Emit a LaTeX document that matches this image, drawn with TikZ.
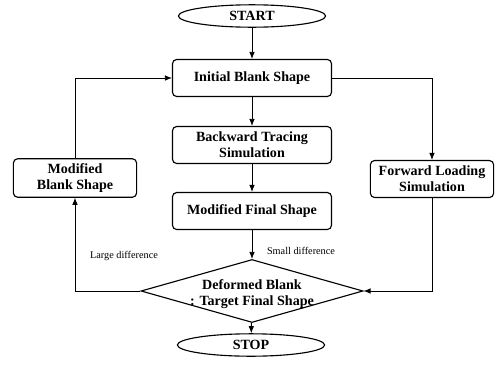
\documentclass[tikz,border=0pt]{standalone}
\usepackage{fontspec}
\setmainfont{Liberation Serif}
\usetikzlibrary{shapes.geometric,arrows.meta}
\begin{document}
\begin{tikzpicture}[
        x=0.025cm, y=-0.025cm,
        every node/.style={font=\fontsize{10}{11.5}\selectfont\bfseries},
        stepbox/.style={
            draw,
            rectangle,
            rounded corners=3pt,
            line width=0.8pt,
            minimum width=3.975cm,
            minimum height=0.925cm,
            align=center
        },
        sidebox/.style={
            stepbox,
            minimum width=3.08cm
        },
        terminal/.style={
            draw,
            ellipse,
            line width=0.8pt,
            inner sep=0pt,
            minimum width=3.68cm,
            minimum height=0.56cm
        },
        decision/.style={
            draw,
            diamond,
            line width=0.8pt,
            aspect=3.52,
            inner sep=0pt,
            minimum width=5.55cm,
            minimum height=1.575cm
        },
        remark/.style={
            font=\fontsize{7.3}{9}\selectfont
        },
        flow/.style={
            -{Latex[length=5pt,width=4pt]},
            line width=0.6pt
        }
    ]
        \useasboundingbox (0,0) rectangle (500,376);

        % Main column
        \node[terminal] (start) at (252,16) {START};
        \node[stepbox] (init) at (252,78) {Initial Blank Shape};
        \node[stepbox] (backward) at (252,145) {Backward Tracing\\Simulation};
        \node[stepbox] (modfinal) at (252,211) {Modified Final Shape};
        \node[decision, label={[align=center, yshift=-2pt]center:Deformed Blank\\: Target Final Shape}]
            (compare) at (252,291) {};
        \node[terminal] (stop) at (251,345) {STOP};

        % Side boxes
        \node[sidebox] (modblank) at (75,178) {Modified\\Blank Shape};
        \node[sidebox] (forward) at (432,179) {Forward Loading\\Simulation};

        % Arrows down the middle
        \draw[flow] (start) -- (init);
        \draw[flow] (init) -- (backward);
        \draw[flow] (backward) -- (modfinal);
        \draw[flow] (modfinal) -- (compare);
        \draw[flow] (compare) -- (stop);

        % Loops on both sides
        \draw[flow] (modblank.north) |- (init.west);
        \draw[flow] (compare.west) -| (modblank.south);
        \draw[flow] (init.east) -| (forward.north);
        \draw[flow] (forward.south) |- (compare.east);

        % Labels
        \node[remark] (large) at (124,256) {Large difference};
        \node[remark] (small) at (301,251) {Small difference};

    \end{tikzpicture}
\end{document}
